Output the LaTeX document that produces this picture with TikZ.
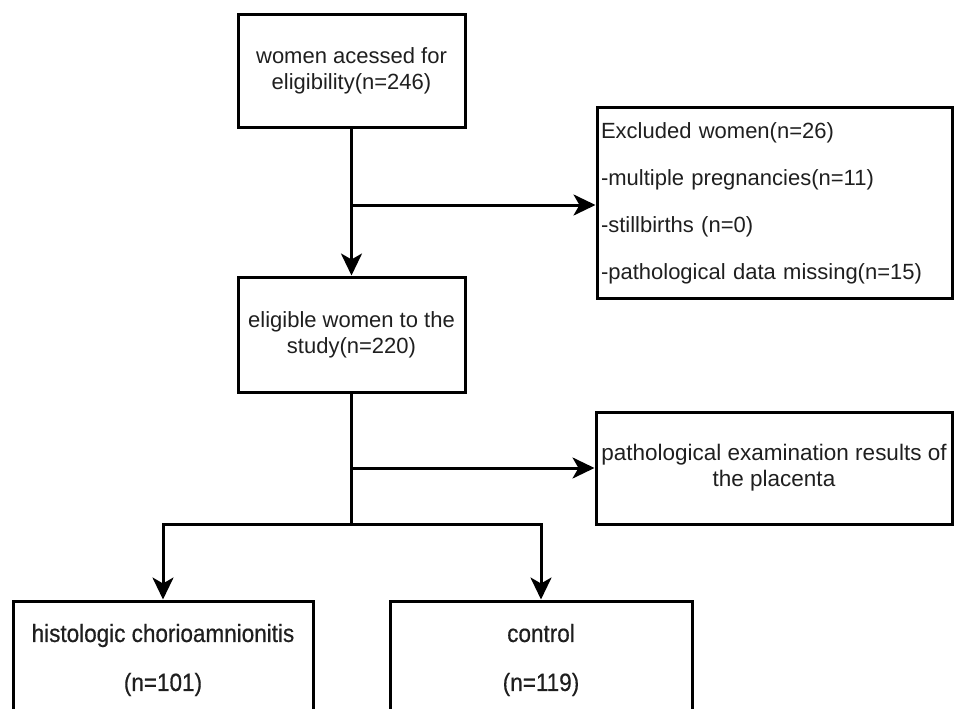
\documentclass[tikz,border=0pt]{standalone}
\usepackage{fontspec}
\setmainfont{Liberation Sans}
\newfontfamily\narrowsf[FakeStretch=0.9,FakeBold=0.5]{Liberation Sans}
\usetikzlibrary{arrows.meta}
\begin{document}
\begin{tikzpicture}[x=1pt,y=-1pt,
  box/.style={draw, line width=3pt, inner sep=0pt, align=center, text=black!88,
              font=\fontsize{22}{26}\selectfont},
  conn/.style={line width=3pt},
  arr/.style={conn, -{Stealth[length=22pt,width=21pt,inset=6pt]}}]
\useasboundingbox (0,0) rectangle (954,709);
\clip (0,0) rectangle (954,709);
\node[box, minimum width=227pt, minimum height=112pt] (a) at (351.5,71)
  {women acessed for\\eligibility(n=246)};
\node[box, minimum width=227pt, minimum height=115pt] (b) at (351.5,334.5)
  {eligible women to the\\study(n=220)};
\node[box, minimum width=355pt, minimum height=190pt, text width=347pt, align=left,
      font=\fontsize{22}{47}\selectfont] (ex) at (774.5,203)
  {Excluded women(n=26)\\-multiple pregnancies(n=11)\\-stillbirths (n=0)\\-pathological data missing(n=15)};
\node[box, minimum width=356pt, minimum height=112pt,
      font=\fontsize{22.5}{26}\selectfont] (pa) at (774,468)
  {pathological examination results of\\the placenta};
\node[box, minimum width=300pt, minimum height=118pt,
      font=\narrowsf\fontsize{25}{49}\selectfont] (h) at (163,660)
  {histologic chorioamnionitis\\(n=101)};
\node[box, minimum width=302pt, minimum height=118pt,
      font=\narrowsf\fontsize{25}{49}\selectfont] (c) at (541,660)
  {control\\(n=119)};
\coordinate (j1) at (351.5,205);
\coordinate (j2) at (351.5,468);
\coordinate (s) at (351.5,524);
\draw[arr] (a.south) -- (b.north);
\draw[arr] (j1) -- (j1 -| ex.west);
\draw[conn] (b.south) -- (s);
\draw[arr] (j2) -- (j2 -| pa.west);
\draw[arr] (s) -| (h.north);
\draw[arr] (s) -| (c.north);
\end{tikzpicture}
\end{document}
